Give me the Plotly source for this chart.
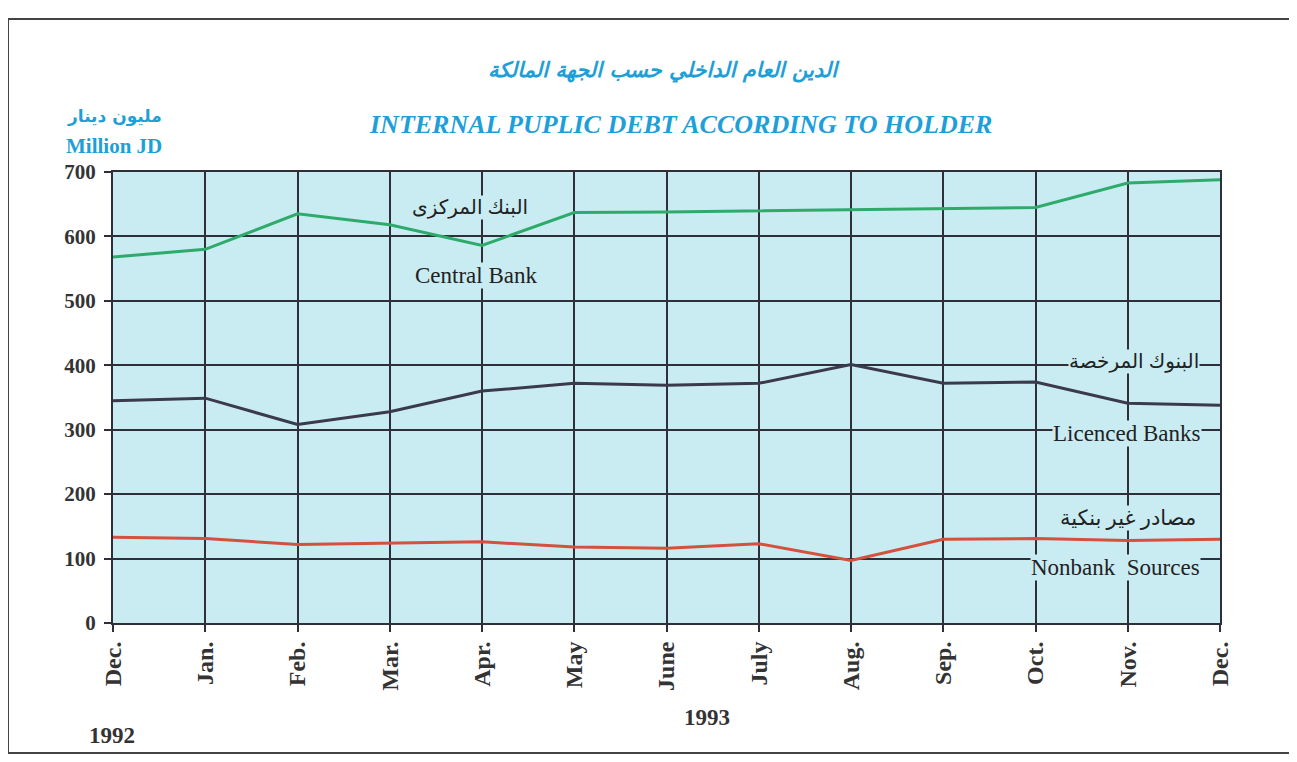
import plotly.graph_objects as go

months = ["Dec.", "Jan.", "Feb.", "Mar.", "Apr.", "May", "June", "July",
          "Aug.", "Sep.", "Oct.", "Nov.", "Dec. "]
central_bank = [568, 580, 635, 618, 586, 637, 638, 640, 641, 643, 645, 683, 688]
licenced_banks = [345, 349, 308, 328, 360, 372, 369, 372, 401, 372, 374, 341, 338]
nonbank_sources = [133, 131, 122, 124, 126, 118, 116, 123, 97, 130, 131, 128, 130]
y_ticks = [0, 100, 200, 300, 400, 500, 600, 700]

BG = "#c9ecf3"
BLUE = "#1e9fd8"
SERIF = "Liberation Serif, DejaVu Serif, DejaVu Sans"

# the page body adds an 8px offset, so the figure is placed relative to that
OFF = 8
PLOT_L, PLOT_R, PLOT_T, PLOT_B = 113, 1220, 172, 623

fig = go.Figure()
for name, values, color in [
    ("Central Bank", central_bank, "#2eab6b"),
    ("Licenced Banks", licenced_banks, "#3b3a4c"),
    ("Nonbank Sources", nonbank_sources, "#d5503d"),
]:
    fig.add_trace(go.Scatter(
        x=months, y=values, mode="lines", name=name,
        line=dict(color=color, width=3), showlegend=False,
    ))


def px_x(px):
    return (px - PLOT_L) / (PLOT_R - PLOT_L)


def px_y(py):
    return (PLOT_B - py) / (PLOT_B - PLOT_T)


def text_at(text, x, y, font, anchor="center", bg=None):
    fig.add_annotation(
        x=px_x(x), y=px_y(y), xref="paper", yref="paper", text=text,
        showarrow=False, xanchor=anchor, yanchor="middle", font=font,
        bgcolor=bg, borderpad=0,
    )


def label(text, x, y, size=23):
    # series labels sit on the grid, background hides the gridlines under them
    text_at(text, x, y, dict(family=SERIF, size=size, color="#222"), bg=BG)


label("البنك المركزى", 470, 207, size=20)
label("Central Bank", 476, 275)
label("البنوك المرخصة", 1134, 361, size=20)
label("Licenced Banks", 1127, 433)
label("مصادر غير بنكية", 1128, 518, size=21)
label("Nonbank  Sources", 1115, 567)

text_at("<b><i>الدين العام الداخلي حسب الجهة المالكة</i></b>", 664, 70,
        dict(family="DejaVu Sans", size=21, color=BLUE))
text_at("<b><i>INTERNAL PUPLIC DEBT ACCORDING TO HOLDER</i></b>", 680, 124,
        dict(family=SERIF, size=26, color=BLUE))
text_at("<b>مليون دينار</b>", 163, 117,
        dict(family="DejaVu Sans", size=17, color=BLUE), anchor="right")
text_at("<b>Million JD</b>", 163, 146,
        dict(family=SERIF, size=21, color=BLUE), anchor="right")
text_at("<b>1992</b>", 112, 735, dict(family=SERIF, size=23, color="#333"))
text_at("<b>1993</b>", 707, 717, dict(family=SERIF, size=23, color="#333"))

# page frame
fig.add_shape(type="rect", xref="paper", yref="paper",
              x0=px_x(8), x1=px_x(1290), y0=px_y(753), y1=px_y(19),
              line=dict(color="#444", width=2), layer="below")

fig.update_xaxes(
    type="category", range=[0, 12], showgrid=True, gridcolor="#2f2f3a", gridwidth=1.5,
    showline=True, linecolor="#2f2f3a", linewidth=2, mirror=True,
    ticks="outside", ticklen=7, tickcolor="#2f2f3a", tickwidth=1.5,
    tickangle=-90, tickfont=dict(family=SERIF, size=24, color="#333"),
    tickvals=months, ticktext=[f"<b>{m.strip()}</b>" for m in months],
    zeroline=False,
)
fig.update_yaxes(
    range=[0, 700], tickvals=y_ticks, ticktext=[f"<b>{v}</b>" for v in y_ticks],
    showgrid=True, gridcolor="#2f2f3a", gridwidth=1.5,
    showline=True, linecolor="#2f2f3a", linewidth=2, mirror=True,
    ticks="outside", ticklen=7, tickcolor="#2f2f3a", tickwidth=1.5,
    tickfont=dict(family=SERIF, size=21, color="#333"), zeroline=False,
    ticklabelstandoff=4,
)
fig.update_layout(
    width=1297, height=762,
    margin=dict(l=PLOT_L - OFF, r=1297 - PLOT_R + OFF,
                t=PLOT_T - OFF, b=762 - PLOT_B + OFF),
    paper_bgcolor="white", plot_bgcolor=BG,
)

fig.write_html("out.html")
